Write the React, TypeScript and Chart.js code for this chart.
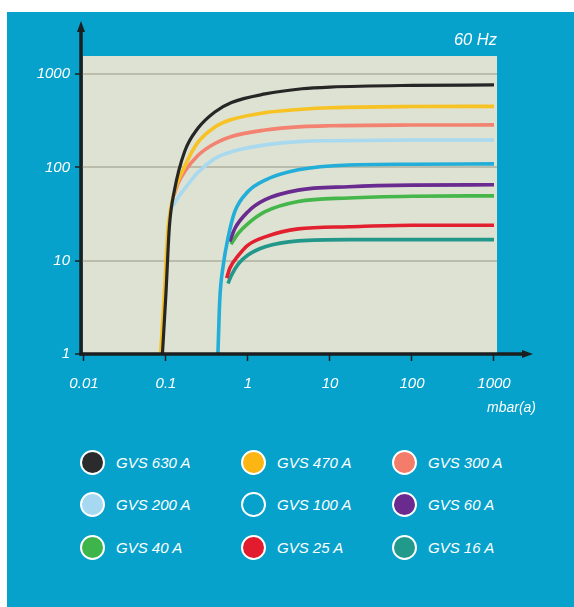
import React, { useEffect, useRef } from "react";
import { Chart, registerables } from "chart.js";

Chart.register(...registerables);

// ---- data ----
const seriesNames = [
  "GVS 630 A", "GVS 470 A", "GVS 300 A",
  "GVS 200 A", "GVS 100 A", "GVS 60 A",
  "GVS 40 A", "GVS 25 A", "GVS 16 A",
];
const seriesColors = [
  "#262627", "#f7c224", "#f38271",
  "#a9d9ef", "#22aed8", "#6a2b90",
  "#44b64a", "#e2202f", "#22978a",
];
const legendColors = [
  "#2b2b2e", "#fbb613", "#f47c6a",
  "#a6d8f2", "#07a2cc", "#6a2a8e",
  "#3db54a", "#e31b2e", "#21998b",
];

const gvs630X = [0.0905, 0.1, 0.11, 0.127, 0.169, 0.245, 0.394, 0.63, 1.62, 4.56, 10, 100, 1000];
const gvs630Y = [1, 4.5, 23, 57, 148, 262, 392, 495, 612, 695, 725, 756, 764];

const gvs470X = [0.086, 0.095, 0.105, 0.12, 0.169, 0.245, 0.394, 0.63, 1.62, 4.56, 10, 100, 1000];
const gvs470Y = [1, 4, 20, 45, 102, 185, 270, 325, 386, 419, 435, 448, 450];

const gvs300X = [0.125, 0.14, 0.169, 0.245, 0.394, 0.63, 1.62, 4.56, 10, 100, 1000];
const gvs300Y = [50, 67, 90, 134, 180, 214, 251, 273, 279, 284, 285];

const gvs200X = [0.12, 0.135, 0.154, 0.245, 0.394, 0.63, 1.62, 4.56, 10, 100, 1000];
const gvs200Y = [38, 45, 53, 88, 124, 147, 174, 190, 193, 196, 196];

const gvs100X = [0.43, 0.453, 0.5, 0.57, 0.69, 1.0, 1.62, 4.1, 17, 100, 1000];
const gvs100Y = [1, 3.8, 9, 17.4, 33.5, 55, 73, 94, 106, 108, 109];

const gvs60X = [0.6, 0.69, 1.0, 1.62, 4.1, 17, 100, 1000];
const gvs60Y = [16, 22, 33.5, 45, 57, 62, 64.5, 65];

const gvs40X = [0.62, 0.76, 1.0, 1.62, 4.1, 17, 100, 1000];
const gvs40Y = [15, 19.6, 25, 33.5, 43, 47, 49, 49.5];

const gvs25X = [0.55, 0.6, 0.76, 1.0, 1.62, 4.1, 17, 100, 1000];
const gvs25Y = [6.5, 8.3, 11.3, 14.7, 18, 21.9, 23.1, 24, 24];

const gvs16X = [0.57, 0.63, 0.76, 1.0, 1.62, 4.1, 17, 100, 1000];
const gvs16Y = [5.7, 7, 9.2, 11.5, 14.1, 16.3, 16.8, 16.8, 16.8];

const seriesX = [gvs630X, gvs470X, gvs300X, gvs200X, gvs100X, gvs60X, gvs40X, gvs25X, gvs16X];
const seriesY = [gvs630Y, gvs470Y, gvs300Y, gvs200Y, gvs100Y, gvs60Y, gvs40Y, gvs25Y, gvs16Y];
const seriesOrder = [0, 1, 1, 1, 0, 1, 1, 1, 1];

const xTicks = [0.01, 0.1, 1, 10, 100, 1000];
const xTickLabels = ["0.01", "0.1", "1", "10", "100", "1000"];
const yTicks = [1, 10, 100, 1000];
const yTickLabels = ["1", "10", "100", "1000"];

const frequencyLabel = "60 Hz";
const xUnitLabel = "mbar(a)";

// ---- styles ----
const BG = "#07a2cc";
const PLOT_BG = "#dee2d2";
const GRID = "#babdac";
const AXIS = "#1b1f20";
const FONT = "'Liberation Sans', Arial, sans-serif";

const decor = {
  id: "decor",
  beforeDraw(chart: any) {
    const { ctx, chartArea } = chart;
    const { left, top, right, bottom } = chartArea;
    ctx.save();
    ctx.fillStyle = PLOT_BG;
    ctx.fillRect(left + 2, top, right - left - 2, bottom - top);
    ctx.restore();
  },
  afterDatasetsDraw(chart: any) {
    const { ctx, chartArea } = chart;
    const { left, top, right, bottom } = chartArea;
    ctx.save();
    ctx.strokeStyle = AXIS;
    ctx.fillStyle = AXIS;
    ctx.lineWidth = 3.5;
    ctx.lineCap = "butt";
    // y axis
    ctx.beginPath();
    ctx.moveTo(left, bottom + 1.5);
    ctx.lineTo(left, top - 26);
    ctx.stroke();
    ctx.beginPath();
    ctx.moveTo(left, top - 35);
    ctx.lineTo(left - 4, top - 24);
    ctx.lineTo(left + 4, top - 24);
    ctx.closePath();
    ctx.fill();
    // x axis
    ctx.beginPath();
    ctx.moveTo(left - 1.5, bottom);
    ctx.lineTo(right + 27, bottom);
    ctx.stroke();
    ctx.beginPath();
    ctx.moveTo(right + 36, bottom);
    ctx.lineTo(right + 25, bottom - 4);
    ctx.lineTo(right + 25, bottom + 4);
    ctx.closePath();
    ctx.fill();
    ctx.restore();
  },
};

export default function App() {
  const canvasRef = useRef<HTMLCanvasElement | null>(null);

  useEffect(() => {
    if (!canvasRef.current) return;
    const datasets = seriesNames.map((name, i) => ({
      label: name,
      data: seriesX[i].map((x, j) => ({ x, y: seriesY[i][j] })),
      borderColor: seriesColors[i],
      backgroundColor: seriesColors[i],
      borderWidth: i === 0 ? 3.2 : 3.6,
      pointRadius: 0,
      cubicInterpolationMode: "monotone" as const,
      fill: false,
      order: seriesOrder[i],
    }));
    const tickFont = { family: FONT, size: 15, style: "italic" as const };
    const chart = new Chart(canvasRef.current, {
      type: "line",
      data: { datasets },
      options: {
        animation: false,
        responsive: false,
        events: [],
        layout: { padding: { left: 0, top: 44, right: 77, bottom: 0 } },
        plugins: { legend: { display: false }, tooltip: { enabled: false } },
        scales: {
          x: {
            type: "logarithmic",
            min: 0.0092,
            max: 1088,
            afterBuildTicks: (s: any) => {
              s.ticks = xTicks.map((v) => ({ value: v }));
            },
            afterFit: (s: any) => {
              s.height = 78;
            },
            ticks: {
              autoSkip: false,
              maxRotation: 0,
              color: "#ffffff",
              font: tickFont,
              padding: 14,
              callback: (_v: any, i: number) => xTickLabels[i],
            },
            grid: {
              drawOnChartArea: false,
              tickLength: 7,
              tickColor: AXIS,
              tickWidth: 1.5,
            },
            border: { display: false },
          },
          y: {
            type: "logarithmic",
            min: 1,
            max: 1560,
            afterBuildTicks: (s: any) => {
              s.ticks = yTicks.map((v) => ({ value: v }));
            },
            afterFit: (s: any) => {
              s.width = 74;
            },
            ticks: {
              autoSkip: false,
              color: "#ffffff",
              font: tickFont,
              padding: 5,
              callback: (_v: any, i: number) => yTickLabels[i],
            },
            grid: {
              color: GRID,
              lineWidth: 2,
              tickLength: 6,
              tickColor: AXIS,
              tickWidth: 1.5,
            },
            border: { display: false },
          },
        },
      },
      plugins: [decor],
    });
    return () => chart.destroy();
  }, []);

  const colX = [85, 246, 397];
  const rowY = [450, 492, 535];

  return (
    <div
      style={{
        position: "absolute",
        left: 7,
        top: 12,
        width: 567,
        height: 595,
        background: BG,
        fontFamily: FONT,
        overflow: "hidden",
      }}
    >
      <canvas
        ref={canvasRef}
        width={567}
        height={420}
        style={{ position: "absolute", left: 0, top: 0, width: 567, height: 420 }}
      />
      <span
        style={{
          position: "absolute",
          right: 77,
          top: 19,
          fontSize: 16.5,
          lineHeight: "16px",
          fontStyle: "italic",
          color: "#ffffff",
          whiteSpace: "nowrap",
        }}
      >
        {frequencyLabel}
      </span>
      <span
        style={{
          position: "absolute",
          left: 480,
          top: 388,
          fontSize: 14,
          lineHeight: "14px",
          fontStyle: "italic",
          color: "#ffffff",
          whiteSpace: "nowrap",
        }}
      >
        {xUnitLabel}
      </span>
      {seriesNames.map((name, i) => {
        const cx = colX[i % 3];
        const cy = rowY[Math.floor(i / 3)];
        return (
          <div
            key={name}
            style={{
              position: "absolute",
              left: cx - 12.5,
              top: cy - 12.5,
              height: 25,
              display: "flex",
              alignItems: "center",
              whiteSpace: "nowrap",
            }}
          >
            <div
              style={{
                width: 25,
                height: 25,
                borderRadius: "50%",
                boxSizing: "border-box",
                border: "2.5px solid #ffffff",
                background: legendColors[i],
                flex: "none",
              }}
            />
            <span
              style={{
                marginLeft: 11.5,
                fontSize: 15,
                lineHeight: "15px",
                fontStyle: "italic",
                color: "#ffffff",
              }}
            >
              {name}
            </span>
          </div>
        );
      })}
    </div>
  );
}
